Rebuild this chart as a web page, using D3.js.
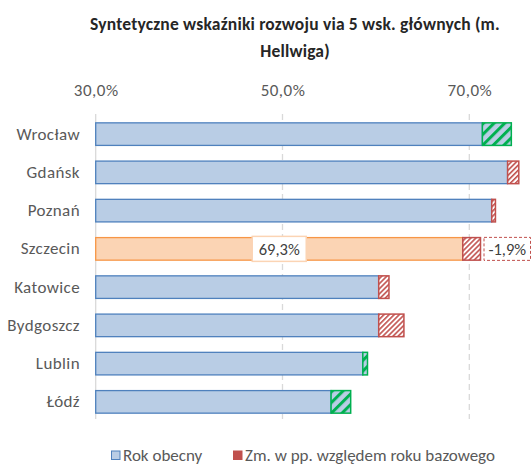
<!DOCTYPE html>
<html>
<head>
<meta charset="utf-8">
<script src="https://cdn.jsdelivr.net/npm/d3@7"></script>
<style>
  html, body { margin: 0; padding: 0; background: #ffffff; }
  svg { display: block; }
  text { font-family: Carlito, Lato, "Open Sans", sans-serif; }
</style>
</head>
<body>
<svg id="chart" width="532" height="468"></svg>
<script>
// ---- data ----
const titleLines = ["Syntetyczne wskaźniki rozwoju via 5 wsk. głównych (m.", "Hellwiga)"];
const categories = ["Wrocław", "Gdańsk", "Poznań", "Szczecin", "Katowice", "Bydgoszcz", "Lublin", "Łódź"];
const currentValues = [74.5, 74.1, 72.4, 69.3, 60.3, 60.3, 59.1, 57.3];
const changeValues = [3.1, -1.2, -0.4, -1.9, -1.1, -2.7, 0.5, 2.1];
const tickValues = [30, 50, 70];
const highlighted = "Szczecin";
const legendLabels = ["Rok obecny", "Zm. w pp. względem roku bazowego"];

// ---- setup ----
const svg = d3.select("#chart");
const fmt = v => d3.format(".1f")(v).replace(".", ",").replace("−", "-") + "%";
const FONT = "Carlito, Lato, sans-serif";

const x = d3.scaleLinear().domain([30, 70]).range([95.7, 469.3]);
const y = d3.scaleBand().domain(categories).range([115, 421])
  .paddingInner(0.41).paddingOuter(0.205);

const defs = svg.append("defs");
function hatch(id, bg, color, size, sw) {
  const p = defs.append("pattern").attr("id", id)
    .attr("patternUnits", "userSpaceOnUse")
    .attr("width", size).attr("height", size)
    .attr("patternTransform", "rotate(45)");
  p.append("rect").attr("width", size).attr("height", size).attr("fill", bg);
  p.append("line").attr("x1", sw / 2).attr("y1", 0).attr("x2", sw / 2).attr("y2", size)
    .attr("stroke", color).attr("stroke-width", sw);
}
hatch("hatchRed", "#ffffff", "#c0504d", 3.6, 1.6);
hatch("hatchGreen", "#b9cde5", "#00b050", 7.5, 3);

// ---- title ----
svg.append("g").selectAll("text").data(titleLines).join("text")
  .attr("x", 295).attr("y", (d, i) => 30 + i * 27)
  .attr("text-anchor", "middle")
  .attr("font-size", 17.5).attr("font-weight", "bold")
  .attr("letter-spacing", 0.2)
  .attr("fill", "#262626")
  .text(d => d);

// ---- gridlines ----
svg.append("g").selectAll("line").data(tickValues).join("line")
  .attr("x1", d => x(d)).attr("x2", d => x(d))
  .attr("y1", 114).attr("y2", 419)
  .attr("stroke", "#d9d9d9").attr("stroke-width", 1.3)
  .attr("stroke-dasharray", d => d === 30 ? null : "6,4");

// ---- top axis ----
const axis = svg.append("g").attr("transform", "translate(0,99)")
  .call(d3.axisTop(x).tickValues(tickValues).tickSize(0).tickPadding(3).tickFormat(fmt));
axis.select(".domain").remove();
axis.selectAll("text").attr("font-size", 17).attr("fill", "#595959")
  .attr("letter-spacing", 0.5).style("font-family", FONT);

// ---- category labels ----
const yAxis = svg.append("g").attr("transform", "translate(86,0)")
  .call(d3.axisLeft(y).tickSize(0).tickPadding(6));
yAxis.select(".domain").remove();
yAxis.selectAll("text").attr("font-size", 17).attr("fill", "#595959")
  .attr("letter-spacing", 0.4).style("font-family", FONT);

// ---- bars ----
const rows = categories.map((c, i) => {
  const cur = currentValues[i], ch = changeValues[i];
  const base = ch > 0 ? cur - ch : cur;
  const hatchEnd = ch > 0 ? cur : cur - ch;
  return { c, cur, ch, base, hatchEnd };
});

const bars = svg.append("g");
bars.selectAll("rect.main").data(rows).join("rect").attr("class", "main")
  .attr("x", x(30)).attr("y", d => y(d.c))
  .attr("width", d => x(d.base) - x(30)).attr("height", y.bandwidth())
  .attr("fill", d => d.c === highlighted ? "#fbd4b4" : "#b9cde5")
  .attr("stroke", d => d.c === highlighted ? "#f79646" : "#4f81bd")
  .attr("stroke-width", 1.3);

bars.selectAll("rect.chg").data(rows).join("rect").attr("class", "chg")
  .attr("x", d => x(d.base)).attr("y", d => y(d.c))
  .attr("width", d => x(d.hatchEnd) - x(d.base)).attr("height", y.bandwidth())
  .attr("fill", d => d.ch > 0 ? "url(#hatchGreen)" : "url(#hatchRed)")
  .attr("stroke", d => d.ch > 0 ? "#00b050" : "#c0504d")
  .attr("stroke-width", 1.5);

// ---- labels for highlighted city ----
const hl = rows.find(r => r.c === highlighted);
const cy = y(hl.c) + y.bandwidth() / 2;
const l1 = svg.append("g").attr("transform", `translate(${(x(30) + x(hl.base)) / 2},${cy})`);
l1.append("rect").attr("x", -27).attr("y", -12.5).attr("width", 54).attr("height", 25)
  .attr("fill", "#ffffff").attr("stroke", "#fbd4b4").attr("stroke-width", 1.5);
l1.append("text").attr("text-anchor", "middle").attr("dy", "0.35em")
  .attr("font-size", 16.5).attr("fill", "#404040").text(fmt(hl.cur));

const l2 = svg.append("g").attr("transform", `translate(${x(hl.hatchEnd) + 3.5},${cy})`);
l2.append("rect").attr("x", 0).attr("y", -11.5).attr("width", 46.5).attr("height", 23)
  .attr("fill", "#ffffff").attr("stroke", "#c0504d").attr("stroke-width", 1)
  .attr("stroke-dasharray", "3,2");
l2.append("text").attr("x", 23.25).attr("text-anchor", "middle").attr("dy", "0.35em")
  .attr("font-size", 16.5).attr("fill", "#404040").text(fmt(hl.ch));

// ---- legend ----
const lg = svg.append("g").attr("transform", "translate(0,455)");
lg.append("rect").attr("x", 111.5).attr("y", -4).attr("width", 8.5).attr("height", 8.5)
  .attr("fill", "#b9cde5").attr("stroke", "#4f81bd").attr("stroke-width", 1);
lg.append("text").attr("x", 123).attr("dy", "0.35em").attr("font-size", 17)
  .attr("fill", "#595959").text(legendLabels[0]);
lg.append("rect").attr("x", 233).attr("y", -4.5).attr("width", 9.5).attr("height", 9.5)
  .attr("fill", "#c0504d");
lg.append("text").attr("x", 245).attr("dy", "0.35em").attr("font-size", 17)
  .attr("fill", "#595959").text(legendLabels[1]);
</script>
</body>
</html>
